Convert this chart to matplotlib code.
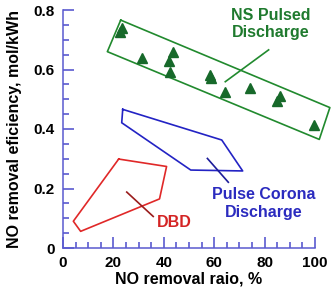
import matplotlib
matplotlib.use("Agg")
import matplotlib.pyplot as plt

plt.rcParams['font.family'] = ['Liberation Sans', 'DejaVu Sans']
plt.rcParams['font.weight'] = 'bold'

# NS pulsed discharge measured points
ns_x = [23.4, 22.6, 31.2, 43.8, 42.1, 42.5, 58.3, 58.7, 64.3, 74.2, 86.1, 84.9, 99.5]
ns_y = [0.739, 0.726, 0.638, 0.660, 0.629, 0.591, 0.582, 0.570, 0.525, 0.537, 0.511, 0.494, 0.413]

# Region outlines
ns_box_x = [22.9, 105.9, 101.7, 17.6, 22.9]
ns_box_y = [0.766, 0.472, 0.365, 0.660, 0.766]
corona_x = [23.7, 63.0, 71.3, 50.7, 23.3, 23.7]
corona_y = [0.466, 0.363, 0.259, 0.262, 0.421, 0.466]
dbd_x = [22.1, 41.1, 38.3, 7.0, 4.1, 22.1]
dbd_y = [0.299, 0.274, 0.165, 0.056, 0.090, 0.299]

# Leader lines
ns_lead_x = [81.6, 64.4]
ns_lead_y = [0.666, 0.559]
corona_lead_x = [57.3, 65.6]
corona_lead_y = [0.301, 0.221]
dbd_lead_x = [25.3, 35.8]
dbd_lead_y = [0.188, 0.106]

labels = ["NS Pulsed\nDischarge", "Pulse Corona\nDischarge", "DBD"]
label_x = [82.5, 79.5, 44.2]
label_y = [0.752, 0.15, 0.087]

xticks = [0, 20, 40, 60, 80, 100]
yticks = [0, 0.2, 0.4, 0.6, 0.8]
ytick_labels = ["0", "0.2", "0.4", "0.6", "0.8"]

green = '#218a2e'
dgreen = '#17692a'
blue = '#2b2bbf'
red = '#e02828'
axcol = '#5a5ad0'

fig = plt.figure(figsize=(3.34, 2.87), dpi=100)
ax = fig.add_axes([63/334, 1-248/287, 252/334, 238/287])
ax.set_xlim(0, 100)
ax.set_ylim(0, 0.8)

ax.plot(ns_box_x, ns_box_y, color=green, lw=1.2, clip_on=False)
ax.plot(corona_x, corona_y, color='#2323c4', lw=1.2, clip_on=False)
ax.plot(dbd_x, dbd_y, color=red, lw=1.2, clip_on=False)
ax.plot(ns_lead_x, ns_lead_y, color=green, lw=1.2)
ax.plot(corona_lead_x, corona_lead_y, color='#1c1c9a', lw=1.2)
ax.plot(dbd_lead_x, dbd_lead_y, color='#9a1c1c', lw=1.2)
ax.plot(ns_x, ns_y, linestyle='none', marker='^', ms=6.8, color=dgreen, clip_on=False)

for t, x, y, c in zip(labels, label_x, label_y, ['#1f7a2e', blue, '#d42424']):
    ax.text(x, y, t, color=c, fontsize=11.5, fontweight='bold', ha='center', va='center',
            linespacing=1.2)

for s in ['top', 'right']:
    ax.spines[s].set_visible(False)
for s in ['left', 'bottom']:
    ax.spines[s].set_color(axcol)
    ax.spines[s].set_linewidth(1.1)

ax.set_xticks(xticks)
ax.set_xticklabels([str(v) for v in xticks])
ax.set_yticks(yticks)
ax.set_yticklabels(ytick_labels)
ax.set_xticks([v for v in range(0, 101, 5) if v % 20], minor=True)
ax.set_yticks([i * 0.05 for i in range(17) if i % 4], minor=True)
ax.tick_params(which='both', direction='in', color=axcol, width=1.2)
ax.tick_params(which='major', length=8, labelsize=11, pad=6)
ax.tick_params(which='minor', length=4)
for lab in ax.get_xticklabels() + ax.get_yticklabels():
    lab.set_fontweight('bold')

ax.set_xlabel("NO removal raio, %", fontsize=11.5, fontweight='bold', labelpad=1)
ax.set_ylabel("NO removal eficiency, mol/kWh", fontsize=11.5, fontweight='bold', labelpad=8)

fig.savefig('out.png', dpi=100)
